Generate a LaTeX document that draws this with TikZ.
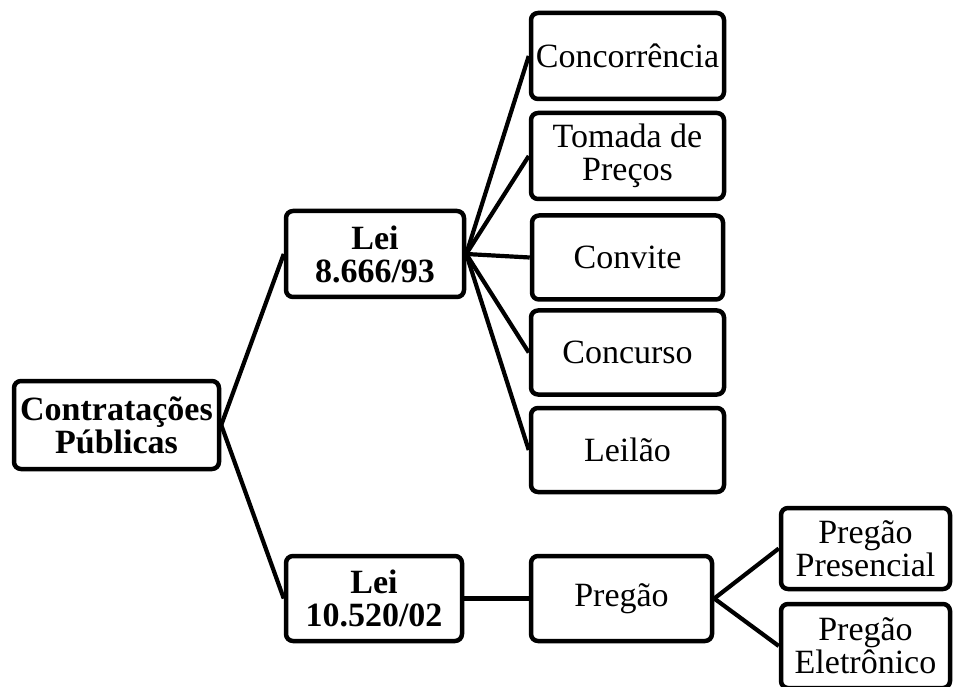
\documentclass[tikz,border=0pt]{standalone}
\usepackage{fontspec}
\setmainfont{Liberation Serif}
\begin{document}
\begin{tikzpicture}[x=1pt,y=-1pt,
  box/.style={draw=black,line width=4.5pt,rounded corners=7pt,fill=white,
    align=center,inner sep=0pt,font=\fontsize{34}{33}\selectfont},
  bbox/.style={box,font=\fontsize{34}{33}\selectfont\bfseries},
  conn/.style={line width=4.2pt,black}]
\useasboundingbox (0,0) rectangle (954,687);
\clip (0,0) rectangle (954,687);
\node[bbox,minimum width=205pt,minimum height=88pt] (cp) at (116.5,425) {Contratações\\Públicas};
\node[bbox,minimum width=178pt,minimum height=86pt] (l1) at (375,254) {Lei\\8.666/93};
\node[bbox,minimum width=176pt,minimum height=85pt] (l2) at (374,598.5) {Lei\\10.520/02};
\node[box,minimum width=193pt,minimum height=86pt] (c1) at (627.5,56) {Concorrência};
\node[box,minimum width=193pt,minimum height=86pt] (c2) at (627.5,156) {Tomada de\\Preços};
\node[box,minimum width=191pt,minimum height=84pt] (c3) at (627.5,257.5) {Convite};
\node[box,minimum width=193pt,minimum height=84pt] (c4) at (627.5,352.5) {Concurso};
\node[box,minimum width=193pt,minimum height=84pt] (c5) at (627.5,450) {Leilão};
\node[box,minimum width=181pt,minimum height=85pt] (pg) at (621.5,598.5) {Pregão};
\node[box,minimum width=169pt,minimum height=81pt] (pp) at (865.5,548.5) {Pregão\\Presencial};
\node[box,minimum width=169pt,minimum height=84pt] (pe) at (865.5,646) {Pregão\\Eletrônico};
\draw[conn] (cp.east) -- (l1.west);
\draw[conn] (cp.east) -- (l2.west);
\foreach \c in {c1,c2,c3,c4,c5} \draw[conn] (l1.east) -- (\c.west);
\draw[conn] (l2.east) -- (pg.west);
\draw[conn] (pg.east) -- (pp.west);
\draw[conn] (pg.east) -- (pe.west);
\end{tikzpicture}
\end{document}
